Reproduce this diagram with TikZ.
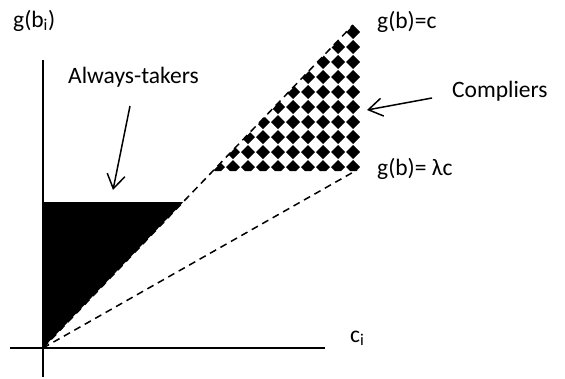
\documentclass[tikz,border=0pt]{standalone}
\usepackage{fontspec}
\setmainfont{Carlito}
\usetikzlibrary{arrows.meta}
\begin{document}
\begin{tikzpicture}[x=1pt,y=-1pt,
  lbl/.style={inner sep=0pt, anchor=base west, font=\fontsize{23.5}{28}\selectfont},
  axis/.style={line width=2pt},
  guide/.style={line width=1.5pt, dash pattern=on 7pt off 5pt},
  pointer/.style={line width=1.5pt, -{Straight Barb[length=14pt,width=18pt]}}]
\useasboundingbox (0,0) rectangle (565,378);
% key points
\coordinate (O) at (43,348);
\coordinate (ytop) at (43,60);
\coordinate (ybot) at (43,377);
\coordinate (xleft) at (10,348);
\coordinate (xright) at (325,348);
\coordinate (upEnd) at (353,25);
\coordinate (lowEnd) at (357,170);
\coordinate (blackTop) at (43,202);
\coordinate (blackRight) at (183.2,202);
% always-takers region
\fill (O) -- (blackTop) -- (blackRight) -- cycle;
% compliers region (checkered)
\begin{scope}
  \clip (213,171) -- (360,171) -- (360,18) -- cycle;
  \foreach \i in {0,...,10} {
    \foreach \j in {0,...,10} {
      \fill ({353-15*\i},{32+15*\j}) +(0,-7) -- +(7,0) -- +(0,7) -- +(-7,0) -- cycle;
    }
  }
\end{scope}
% axes
\draw[axis] (ytop) -- (ybot);
\draw[axis] (xleft) -- (xright);
% guide lines
\draw[guide] (O) -- (upEnd);
\draw[guide] (O) -- (lowEnd);
% labels
\node[lbl] (gbi) at (13,27) {g(b\textsubscript{i})};
\node[lbl] (ci) at (350,342) {c\textsubscript{i}};
\node[lbl] (gbc) at (377,28) {g(b)=c};
\node[lbl] (gbl) at (377,175) {g(b)= λc};
\node[lbl] (comp) at (452,97) {Compliers};
\node[lbl] (always) at (68,83) {Always-takers};
% pointers
\coordinate (aStart) at (130,106);
\coordinate (aTip) at (113,190);
\coordinate (cStart) at (432,98);
\coordinate (cTip) at (367,110);
\draw[pointer] (aStart) -- (aTip);
\draw[pointer] (cStart) -- (cTip);
\end{tikzpicture}
\end{document}
